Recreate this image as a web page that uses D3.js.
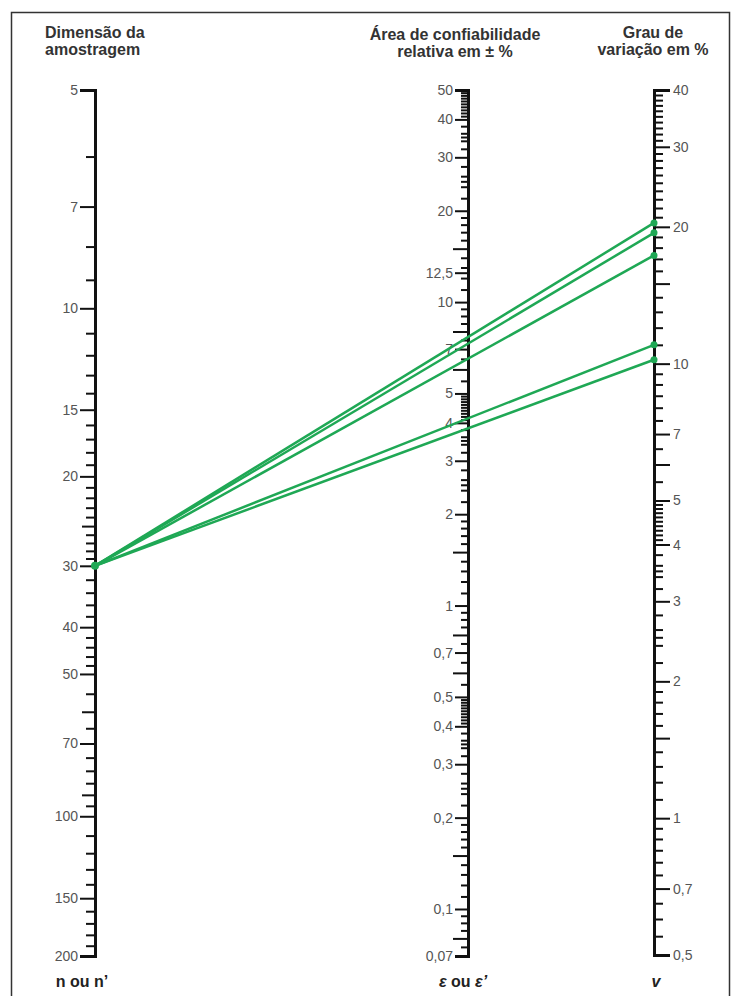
<!DOCTYPE html>
<html>
<head>
<meta charset="utf-8">
<script src="https://cdn.jsdelivr.net/npm/d3@7"></script>
<style>
  body { margin: 0; background: #fff; }
  svg text { font-family: "Liberation Sans", Arial, sans-serif; }
  .axis .tick text { fill: #555; font-size: 14px; }
  .axis path.domain { stroke: #111; stroke-width: 3; fill: none; }
  .axis .tick line { stroke: #111; stroke-width: 2; }
  .title { font-weight: bold; font-size: 16px; fill: #333; }
  .foot { font-weight: bold; font-size: 16px; fill: #222; }
  .link { stroke: #1fa855; stroke-width: 2.5; fill: none; }
  .dot { fill: #1fa855; }
</style>
</head>
<body>
<svg width="734" height="996"></svg>
<script>
// sample size scale (n)
var nLabels = [5, 7, 10, 15, 20, 30, 40, 50, 70, 100, 150, 200];
var nMedium = [25, 60, 90];
var nMinor = [6, 8, 9, 11, 12, 13, 14, 16, 17, 18, 19, 21, 22, 23, 24, 26, 27, 28, 29,
  32, 34, 36, 38, 42, 44, 46, 48, 55, 65, 75, 80, 85, 95, 110, 120, 130, 140, 160, 170, 180, 190];

// relative confidence range (epsilon): labels, and ticks per decade as mantissas
var epsLabels = [50, 40, 30, 20, 12.5, 10, 7, 5, 4, 3, 2, 1, 0.7, 0.5, 0.4, 0.3, 0.2, 0.1, 0.07];
var epsMinorM = [1.1, 1.2, 1.3, 1.4, 1.6, 1.7, 1.8, 1.9, 2.2, 2.4, 2.5, 2.6, 2.8, 3.2, 3.4, 3.5, 3.6, 3.8,
  4.1, 4.2, 4.3, 4.4, 4.5, 4.6, 4.7, 4.8, 4.9, 5.5, 6.5, 7.5, 8.5, 9, 9.5];
var epsLongM = [1.5, 6, 8];

// coefficient of variation (v)
var vLabels = [40, 30, 20, 10, 7, 5, 4, 3, 2, 1, 0.7, 0.5];
var vMinor = [39, 38, 37, 36, 35, 34, 33, 32, 31, 29, 28, 27, 26, 25, 24, 23, 22, 21,
  19, 18, 17, 16, 14, 13, 12, 11, 9.5, 9, 8.5, 8, 7.5, 6.5, 5.5,
  4.9, 4.8, 4.7, 4.6, 4.5, 4.4, 4.3, 4.2, 4.1, 3.8, 3.6, 3.5, 3.4, 3.2, 2.8, 2.6, 2.5, 2.4, 2.2,
  1.9, 1.8, 1.7, 1.6, 1.4, 1.3, 1.2, 1.1, 0.95, 0.9, 0.85, 0.8, 0.75, 0.65, 0.6, 0.55];
var vLong = [15, 6, 1.5];

// the example lines drawn on the nomogram
var sampleN = [30, 30, 30, 30, 30];
var variation = [20.4, 19.4, 17.3, 11.0, 10.2];

var svg = d3.select("svg");
var top0 = 90, bottom0 = 956;
var xN = 95, xE = 468, xV = 654;

// two-sided 95% Student t quantile (Cornish-Fisher expansion)
function tq(df) {
  var z = 1.959964, z3 = z * z * z, z5 = z3 * z * z, z7 = z5 * z * z, z9 = z7 * z * z;
  return z + (z3 + z) / (4 * df) +
    (5 * z5 + 16 * z3 + 3 * z) / (96 * df * df) +
    (3 * z7 + 19 * z5 + 17 * z3 - 15 * z) / (384 * Math.pow(df, 3)) +
    (79 * z9 + 776 * z7 + 1482 * z5 - 1920 * z3 - 945 * z) / (92160 * Math.pow(df, 4));
}
function g(n) { return Math.log10(tq(n - 1) / Math.sqrt(n)); }

var yN = d3.scaleLinear().domain([g(5), g(200)]).range([top0, bottom0]);
var yE = d3.scaleLog().domain([50, 0.07]).range([top0, bottom0]);
var yV = d3.scaleLog().domain([40, 0.5]).range([top0, 955]);

function comma(d) { return String(d).replace(".", ","); }

function fromMantissa(mant, scale, skip) {
  var d = scale.domain(), lo = Math.min(d[0], d[1]), hi = Math.max(d[0], d[1]), out = [];
  [0.01, 0.1, 1, 10].forEach(function(base) {
    mant.forEach(function(m) {
      var v = +(m * base).toPrecision(4);
      if (v > lo && v < hi && skip.indexOf(v) < 0) out.push(v);
    });
  });
  return out;
}

// frame
svg.append("rect")
  .attr("x", 11.5).attr("y", 12.5)
  .attr("width", 718).attr("height", 1000)
  .attr("fill", "none").attr("stroke", "#333").attr("stroke-width", 1.5);

// n axis
var gN = svg.append("g").attr("class", "axis").attr("transform", "translate(" + xN + ",0)");
gN.append("g").call(d3.axisLeft(yN).tickValues(nMinor.map(g)).tickSize(9).tickSizeOuter(0).tickFormat(""));
gN.append("g").call(d3.axisLeft(yN).tickValues(nMedium.map(g)).tickSize(13).tickSizeOuter(0).tickFormat(""));
gN.append("g").call(d3.axisLeft(yN).tickValues(nLabels.map(g)).tickSize(15).tickSizeOuter(15).tickPadding(2)
  .tickFormat(function(d, i) { return nLabels[i]; }));

// epsilon axis
var gE = svg.append("g").attr("class", "axis").attr("transform", "translate(" + xE + ",0)");
gE.append("g").call(d3.axisLeft(yE).tickValues(fromMantissa(epsMinorM, yE, epsLabels)).tickSize(7).tickSizeOuter(0).tickFormat(""));
gE.append("g").call(d3.axisLeft(yE).tickValues(fromMantissa(epsLongM, yE, epsLabels)).tickSize(15).tickSizeOuter(0).tickFormat(""));
gE.append("g").call(d3.axisLeft(yE).tickValues(epsLabels).tickSize(13).tickSizeOuter(13).tickPadding(2).tickFormat(comma));

// v axis
var gV = svg.append("g").attr("class", "axis").attr("transform", "translate(" + xV + ",0)");
gV.append("g").call(d3.axisRight(yV).tickValues(vMinor).tickSize(9).tickSizeOuter(0).tickFormat(""));
gV.append("g").call(d3.axisRight(yV).tickValues(vLong).tickSize(16).tickSizeOuter(0).tickFormat(""));
gV.append("g").call(d3.axisRight(yV).tickValues(vLabels).tickSize(16).tickSizeOuter(16).tickPadding(3).tickFormat(comma));

svg.selectAll(".axis g:not(:last-child) path.domain").remove();

// example lines
var pts = sampleN.map(function(n, i) {
  return { x1: xN, y1: yN(g(n)), x2: xV, y2: yV(variation[i]) };
});
svg.selectAll(".link").data(pts).enter().append("line")
  .attr("class", "link")
  .attr("x1", function(d) { return d.x1; }).attr("y1", function(d) { return d.y1; })
  .attr("x2", function(d) { return d.x2; }).attr("y2", function(d) { return d.y2; });
svg.selectAll(".dotv").data(pts).enter().append("circle")
  .attr("class", "dot").attr("r", 3.5)
  .attr("cx", function(d) { return d.x2; }).attr("cy", function(d) { return d.y2; });
svg.append("circle").attr("class", "dot").attr("r", 4)
  .attr("cx", xN).attr("cy", yN(g(sampleN[0])));

// titles
function title(lines, x, y, anchor) {
  var t = svg.append("text").attr("class", "title").attr("text-anchor", anchor);
  lines.forEach(function(s, i) {
    t.append("tspan").attr("x", x).attr("y", y + i * 17).text(s);
  });
}
title(["Dimensão da", "amostragem"], 45, 38, "start");
title(["Área de confiabilidade", "relativa em ± %"], 455, 40, "middle");
title(["Grau de", "variação em %"], 653, 38, "middle");

// axis names at the bottom
svg.append("text").attr("class", "foot").attr("x", 82).attr("y", 987).attr("text-anchor", "middle").text("n ou n’");
var fe = svg.append("text").attr("class", "foot").attr("x", 463).attr("y", 987).attr("text-anchor", "middle");
fe.append("tspan").attr("font-style", "italic").text("ε");
fe.append("tspan").text(" ou ");
fe.append("tspan").attr("font-style", "italic").text("ε’");
svg.append("text").attr("class", "foot").attr("x", 656).attr("y", 987).attr("text-anchor", "middle")
  .attr("font-style", "italic").text("v");
</script>
</body>
</html>
